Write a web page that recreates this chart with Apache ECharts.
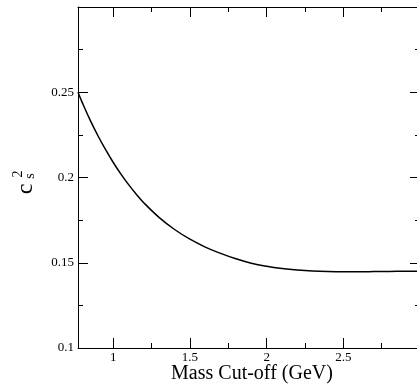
<!DOCTYPE html>
<html>
<head>
<meta charset="utf-8">
<script src="https://cdn.jsdelivr.net/npm/echarts@6/dist/echarts.min.js"></script>
<style>
  html, body { margin: 0; padding: 0; background: #fff; }
  #chart { width: 417px; height: 387px; }
</style>
</head>
<body>
<div id="chart"></div>
<script>
// mass cut-off (GeV) and sound speed squared
const massCut = [0.77, 0.80, 0.85, 0.90, 0.95, 1.00, 1.05, 1.10, 1.15, 1.20, 1.30, 1.40, 1.50, 1.60,
  1.70, 1.80, 1.90, 2.00, 2.10, 2.20, 2.30, 2.40, 2.50, 2.60, 2.70, 2.80, 2.90, 3.00];
const cs2 = [0.2500, 0.2435, 0.2335, 0.2245, 0.2163, 0.2088, 0.2020, 0.1958, 0.1902, 0.1851, 0.1765,
  0.1695, 0.1638, 0.1592, 0.1555, 0.1523, 0.1497, 0.1479, 0.1466, 0.1457, 0.1451, 0.1448, 0.1447,
  0.1447, 0.1448, 0.1449, 0.1450, 0.1451];

const xMajor = [1, 1.5, 2, 2.5];
const xMinor = [1.25, 1.75, 2.25, 2.75];

const FONT = 'Liberation Serif';
const chart = echarts.init(document.getElementById('chart'));

// x axes: one for major ticks + labels, one for the small ticks, same again on top
function xAx(pos, ticks, len, labels, line) {
  return {
    type: 'value', position: pos, min: 0.77, max: 3.0,
    axisLine: { show: line, onZero: false, lineStyle: { color: '#000', width: 1 } },
    axisTick: { show: true, inside: true, length: len, customValues: ticks, lineStyle: { color: '#000' } },
    axisLabel: { show: labels, customValues: ticks, color: '#000', fontFamily: FONT, fontSize: 13, margin: 3 },
    splitLine: { show: false }
  };
}
function yAx(pos, labels) {
  return {
    type: 'value', position: pos, min: 0.1, max: 0.3, interval: 0.05,
    axisLine: { show: true, onZero: false, lineStyle: { color: '#000', width: 1 } },
    axisTick: { show: true, inside: true, length: 10, lineStyle: { color: '#000' } },
    minorTick: { show: true, splitNumber: 2, length: 5, lineStyle: { color: '#000' } },
    axisLabel: { show: labels, showMaxLabel: false, color: '#000', fontFamily: FONT, fontSize: 13, margin: 4 },
    splitLine: { show: false }
  };
}

const xBottom = xAx('bottom', xMajor, 10, true, true);
xBottom.name = 'Mass Cut-off (GeV)';
xBottom.nameLocation = 'middle';
xBottom.nameGap = 16;
xBottom.nameMoveOverlap = false;
xBottom.nameTextStyle = { color: '#000', fontFamily: FONT, fontSize: 20, padding: [0, 0, 0, 6] };

chart.setOption({
  animation: false,
  backgroundColor: '#fff',
  grid: { left: 78, top: 7, width: 342, height: 341, containLabel: false, outerBoundsMode: 'none' },
  xAxis: [
    xBottom,
    xAx('bottom', xMinor, 5, false, false),
    xAx('top', xMajor, 10, false, true),
    xAx('top', xMinor, 5, false, false)
  ],
  yAxis: [yAx('left', true), yAx('right', false)],
  graphic: [
    // c_s^2 label, turned to read upwards
    { type: 'text', x: 26, y: 189, rotation: Math.PI / 2,
      style: { text: 'c', font: '24px ' + FONT, fill: '#000', align: 'center', verticalAlign: 'middle' } },
    { type: 'text', x: 18, y: 174, rotation: Math.PI / 2,
      style: { text: '2', font: '14px ' + FONT, fill: '#000', align: 'center', verticalAlign: 'middle' } },
    { type: 'text', x: 30, y: 176, rotation: Math.PI / 2,
      style: { text: 's', font: '14px ' + FONT, fill: '#000', align: 'center', verticalAlign: 'middle' } }
  ],
  series: [{
    type: 'line',
    xAxisIndex: 0,
    yAxisIndex: 0,
    data: massCut.map((m, i) => [m, cs2[i]]),
    smooth: 0.4,
    showSymbol: false,
    clip: true,
    lineStyle: { color: '#000', width: 1.5 }
  }]
});
</script>
</body>
</html>
